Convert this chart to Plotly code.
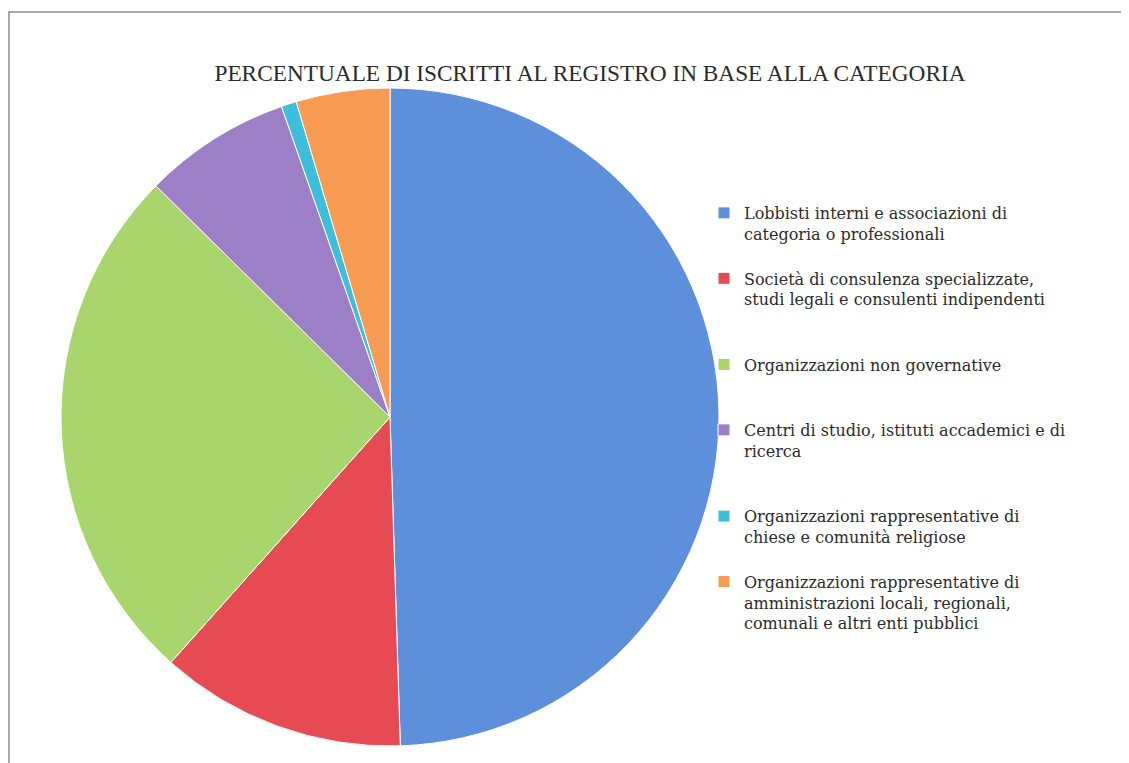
import plotly.graph_objects as go

categories = [
    "Lobbisti interni e associazioni di<br>categoria o professionali<br> ",
    "Società di consulenza specializzate,<br>studi legali e consulenti indipendenti<br> <br> ",
    "Organizzazioni non governative<br> <br> ",
    "Centri di studio, istituti accademici e di<br>ricerca<br> <br> ",
    "Organizzazioni rappresentative di<br>chiese e comunità religiose<br> ",
    "Organizzazioni rappresentative di<br>amministrazioni locali, regionali,<br>comunali e altri enti pubblici",
]
values = [49.5, 12.1, 25.8, 7.25, 0.75, 4.6]
colors = ["#5E8FDA", "#E64B53", "#A8D66C", "#9C7FC6", "#3DBEDB", "#F79A52"]

W, H = 1121, 755
cx, cy, r = 382, 409, 329

fig = go.Figure(go.Pie(
    labels=categories,
    values=values,
    sort=False,
    direction="clockwise",
    rotation=0,
    textinfo="none",
    hoverinfo="label+percent",
    marker=dict(colors=colors, line=dict(color="white", width=1)),
    domain=dict(x=[(cx - r) / W, (cx + r) / W], y=[(H - cy - r) / H, (H - cy + r) / H]),
))

fig.update_layout(
    width=W, height=H, autosize=False,
    margin=dict(l=0, r=0, t=0, b=0),
    paper_bgcolor="white", plot_bgcolor="white",
    title=dict(
        text="PERCENTUALE DI ISCRITTI AL REGISTRO IN BASE ALLA CATEGORIA",
        x=582 / W, xanchor="center", y=1 - 65 / H, yanchor="middle",
        font=dict(family="Liberation Serif", size=23.3, color="#2b2b2b"),
    ),
    legend=dict(
        x=696 / W, xanchor="left", y=1 - 188 / H, yanchor="top",
        font=dict(family="DejaVu Serif", size=16, color="#2b2b2b"),
        valign="top", bgcolor="rgba(0,0,0,0)", itemclick=False,
    ),
    shapes=[dict(type="rect", xref="paper", yref="paper",
                 x0=1 / W, x1=1.02, y0=-0.02, y1=1 - 4 / H,
                 line=dict(color="#8c8c8c", width=1.5), fillcolor="rgba(0,0,0,0)")],
)

fig.write_html("out.html")
